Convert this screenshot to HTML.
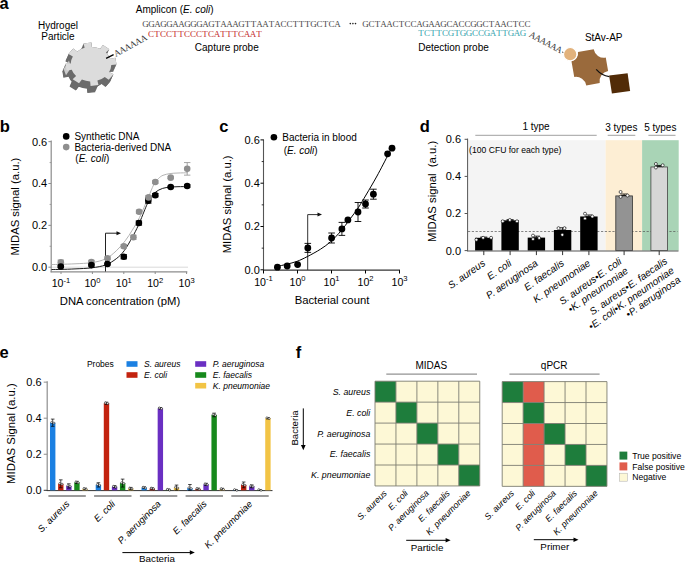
<!DOCTYPE html>
<html><head><meta charset="utf-8"><style>
html,body{margin:0;padding:0;background:#fff;overflow:hidden;}
svg{display:block;}
</style></head><body>
<svg width="685" height="562" viewBox="0 0 685 562" font-family="Liberation Sans">
<rect width="685" height="562" fill="#fff"/>
<text x="-0.60" y="9.10" font-family="Liberation Sans" font-size="16.5" text-anchor="start" font-weight="bold" font-style="normal" fill="#000">a</text>
<text x="58.00" y="28.50" font-family="Liberation Sans" font-size="10" text-anchor="middle" font-weight="normal" font-style="normal" fill="#000">Hydrogel</text>
<text x="58.00" y="39.80" font-family="Liberation Sans" font-size="10" text-anchor="middle" font-weight="normal" font-style="normal" fill="#000">Particle</text>
<text x="135.80" y="12.80" font-family="Liberation Sans" font-size="10" text-anchor="start" font-weight="normal" font-style="normal" fill="#000">Amplicon (<tspan font-style="italic">E. coli</tspan>)</text>
<path d="M-6.39,-19.27 L-7.46,-24.39 L0.45,-25.50 L0.83,-20.28 A20.3,20.3 0 0 1 9.11,-18.14 L9.11,-18.14 L11.97,-22.52 L18.34,-17.71 L14.93,-13.75 A20.3,20.3 0 0 1 19.27,-6.39 L19.27,-6.39 L24.39,-7.46 L25.50,0.45 L20.28,0.83 A20.3,20.3 0 0 1 18.14,9.11 L18.14,9.11 L22.52,11.97 L17.71,18.34 L13.75,14.93 A20.3,20.3 0 0 1 6.39,19.27 L6.39,19.27 L7.46,24.39 L-0.45,25.50 L-0.83,20.28 A20.3,20.3 0 0 1 -9.11,18.14 L-9.11,18.14 L-11.97,22.52 L-18.34,17.71 L-14.93,13.75 A20.3,20.3 0 0 1 -19.27,6.39 L-19.27,6.39 L-24.39,7.46 L-25.50,-0.45 L-20.28,-0.83 A20.3,20.3 0 0 1 -18.14,-9.11 L-18.14,-9.11 L-22.52,-11.97 L-17.71,-18.34 L-13.75,-14.93 A20.3,20.3 0 0 1 -6.39,-19.27 Z" fill="#6b6b6b" transform="translate(91.00,64.20) scale(1,0.85)"/>
<path d="M-6.39,-19.27 L-7.46,-24.39 L0.45,-25.50 L0.83,-20.28 A20.3,20.3 0 0 1 9.11,-18.14 L9.11,-18.14 L11.97,-22.52 L18.34,-17.71 L14.93,-13.75 A20.3,20.3 0 0 1 19.27,-6.39 L19.27,-6.39 L24.39,-7.46 L25.50,0.45 L20.28,0.83 A20.3,20.3 0 0 1 18.14,9.11 L18.14,9.11 L22.52,11.97 L17.71,18.34 L13.75,14.93 A20.3,20.3 0 0 1 6.39,19.27 L6.39,19.27 L7.46,24.39 L-0.45,25.50 L-0.83,20.28 A20.3,20.3 0 0 1 -9.11,18.14 L-9.11,18.14 L-11.97,22.52 L-18.34,17.71 L-14.93,13.75 A20.3,20.3 0 0 1 -19.27,6.39 L-19.27,6.39 L-24.39,7.46 L-25.50,-0.45 L-20.28,-0.83 A20.3,20.3 0 0 1 -18.14,-9.11 L-18.14,-9.11 L-22.52,-11.97 L-17.71,-18.34 L-13.75,-14.93 A20.3,20.3 0 0 1 -6.39,-19.27 Z" fill="#6b6b6b" transform="translate(90.73,64.80) scale(1,0.85)"/>
<path d="M-6.39,-19.27 L-7.46,-24.39 L0.45,-25.50 L0.83,-20.28 A20.3,20.3 0 0 1 9.11,-18.14 L9.11,-18.14 L11.97,-22.52 L18.34,-17.71 L14.93,-13.75 A20.3,20.3 0 0 1 19.27,-6.39 L19.27,-6.39 L24.39,-7.46 L25.50,0.45 L20.28,0.83 A20.3,20.3 0 0 1 18.14,9.11 L18.14,9.11 L22.52,11.97 L17.71,18.34 L13.75,14.93 A20.3,20.3 0 0 1 6.39,19.27 L6.39,19.27 L7.46,24.39 L-0.45,25.50 L-0.83,20.28 A20.3,20.3 0 0 1 -9.11,18.14 L-9.11,18.14 L-11.97,22.52 L-18.34,17.71 L-14.93,13.75 A20.3,20.3 0 0 1 -19.27,6.39 L-19.27,6.39 L-24.39,7.46 L-25.50,-0.45 L-20.28,-0.83 A20.3,20.3 0 0 1 -18.14,-9.11 L-18.14,-9.11 L-22.52,-11.97 L-17.71,-18.34 L-13.75,-14.93 A20.3,20.3 0 0 1 -6.39,-19.27 Z" fill="#6b6b6b" transform="translate(90.47,65.40) scale(1,0.85)"/>
<path d="M-6.39,-19.27 L-7.46,-24.39 L0.45,-25.50 L0.83,-20.28 A20.3,20.3 0 0 1 9.11,-18.14 L9.11,-18.14 L11.97,-22.52 L18.34,-17.71 L14.93,-13.75 A20.3,20.3 0 0 1 19.27,-6.39 L19.27,-6.39 L24.39,-7.46 L25.50,0.45 L20.28,0.83 A20.3,20.3 0 0 1 18.14,9.11 L18.14,9.11 L22.52,11.97 L17.71,18.34 L13.75,14.93 A20.3,20.3 0 0 1 6.39,19.27 L6.39,19.27 L7.46,24.39 L-0.45,25.50 L-0.83,20.28 A20.3,20.3 0 0 1 -9.11,18.14 L-9.11,18.14 L-11.97,22.52 L-18.34,17.71 L-14.93,13.75 A20.3,20.3 0 0 1 -19.27,6.39 L-19.27,6.39 L-24.39,7.46 L-25.50,-0.45 L-20.28,-0.83 A20.3,20.3 0 0 1 -18.14,-9.11 L-18.14,-9.11 L-22.52,-11.97 L-17.71,-18.34 L-13.75,-14.93 A20.3,20.3 0 0 1 -6.39,-19.27 Z" fill="#6b6b6b" transform="translate(90.20,66.00) scale(1,0.85)"/>
<path d="M-6.39,-19.27 L-7.46,-24.39 L0.45,-25.50 L0.83,-20.28 A20.3,20.3 0 0 1 9.11,-18.14 L9.11,-18.14 L11.97,-22.52 L18.34,-17.71 L14.93,-13.75 A20.3,20.3 0 0 1 19.27,-6.39 L19.27,-6.39 L24.39,-7.46 L25.50,0.45 L20.28,0.83 A20.3,20.3 0 0 1 18.14,9.11 L18.14,9.11 L22.52,11.97 L17.71,18.34 L13.75,14.93 A20.3,20.3 0 0 1 6.39,19.27 L6.39,19.27 L7.46,24.39 L-0.45,25.50 L-0.83,20.28 A20.3,20.3 0 0 1 -9.11,18.14 L-9.11,18.14 L-11.97,22.52 L-18.34,17.71 L-14.93,13.75 A20.3,20.3 0 0 1 -19.27,6.39 L-19.27,6.39 L-24.39,7.46 L-25.50,-0.45 L-20.28,-0.83 A20.3,20.3 0 0 1 -18.14,-9.11 L-18.14,-9.11 L-22.52,-11.97 L-17.71,-18.34 L-13.75,-14.93 A20.3,20.3 0 0 1 -6.39,-19.27 Z" fill="#6b6b6b" transform="translate(89.93,66.60) scale(1,0.85)"/>
<path d="M-6.39,-19.27 L-7.46,-24.39 L0.45,-25.50 L0.83,-20.28 A20.3,20.3 0 0 1 9.11,-18.14 L9.11,-18.14 L11.97,-22.52 L18.34,-17.71 L14.93,-13.75 A20.3,20.3 0 0 1 19.27,-6.39 L19.27,-6.39 L24.39,-7.46 L25.50,0.45 L20.28,0.83 A20.3,20.3 0 0 1 18.14,9.11 L18.14,9.11 L22.52,11.97 L17.71,18.34 L13.75,14.93 A20.3,20.3 0 0 1 6.39,19.27 L6.39,19.27 L7.46,24.39 L-0.45,25.50 L-0.83,20.28 A20.3,20.3 0 0 1 -9.11,18.14 L-9.11,18.14 L-11.97,22.52 L-18.34,17.71 L-14.93,13.75 A20.3,20.3 0 0 1 -19.27,6.39 L-19.27,6.39 L-24.39,7.46 L-25.50,-0.45 L-20.28,-0.83 A20.3,20.3 0 0 1 -18.14,-9.11 L-18.14,-9.11 L-22.52,-11.97 L-17.71,-18.34 L-13.75,-14.93 A20.3,20.3 0 0 1 -6.39,-19.27 Z" fill="#6b6b6b" transform="translate(89.67,67.20) scale(1,0.85)"/>
<path d="M-6.39,-19.27 L-7.46,-24.39 L0.45,-25.50 L0.83,-20.28 A20.3,20.3 0 0 1 9.11,-18.14 L9.11,-18.14 L11.97,-22.52 L18.34,-17.71 L14.93,-13.75 A20.3,20.3 0 0 1 19.27,-6.39 L19.27,-6.39 L24.39,-7.46 L25.50,0.45 L20.28,0.83 A20.3,20.3 0 0 1 18.14,9.11 L18.14,9.11 L22.52,11.97 L17.71,18.34 L13.75,14.93 A20.3,20.3 0 0 1 6.39,19.27 L6.39,19.27 L7.46,24.39 L-0.45,25.50 L-0.83,20.28 A20.3,20.3 0 0 1 -9.11,18.14 L-9.11,18.14 L-11.97,22.52 L-18.34,17.71 L-14.93,13.75 A20.3,20.3 0 0 1 -19.27,6.39 L-19.27,6.39 L-24.39,7.46 L-25.50,-0.45 L-20.28,-0.83 A20.3,20.3 0 0 1 -18.14,-9.11 L-18.14,-9.11 L-22.52,-11.97 L-17.71,-18.34 L-13.75,-14.93 A20.3,20.3 0 0 1 -6.39,-19.27 Z" fill="#6b6b6b" transform="translate(89.40,67.80) scale(1,0.85)"/>
<path d="M-6.39,-19.27 L-7.46,-24.39 L0.45,-25.50 L0.83,-20.28 A20.3,20.3 0 0 1 9.11,-18.14 L9.11,-18.14 L11.97,-22.52 L18.34,-17.71 L14.93,-13.75 A20.3,20.3 0 0 1 19.27,-6.39 L19.27,-6.39 L24.39,-7.46 L25.50,0.45 L20.28,0.83 A20.3,20.3 0 0 1 18.14,9.11 L18.14,9.11 L22.52,11.97 L17.71,18.34 L13.75,14.93 A20.3,20.3 0 0 1 6.39,19.27 L6.39,19.27 L7.46,24.39 L-0.45,25.50 L-0.83,20.28 A20.3,20.3 0 0 1 -9.11,18.14 L-9.11,18.14 L-11.97,22.52 L-18.34,17.71 L-14.93,13.75 A20.3,20.3 0 0 1 -19.27,6.39 L-19.27,6.39 L-24.39,7.46 L-25.50,-0.45 L-20.28,-0.83 A20.3,20.3 0 0 1 -18.14,-9.11 L-18.14,-9.11 L-22.52,-11.97 L-17.71,-18.34 L-13.75,-14.93 A20.3,20.3 0 0 1 -6.39,-19.27 Z" fill="#6b6b6b" transform="translate(89.13,68.40) scale(1,0.85)"/>
<path d="M-6.39,-19.27 L-7.46,-24.39 L0.45,-25.50 L0.83,-20.28 A20.3,20.3 0 0 1 9.11,-18.14 L9.11,-18.14 L11.97,-22.52 L18.34,-17.71 L14.93,-13.75 A20.3,20.3 0 0 1 19.27,-6.39 L19.27,-6.39 L24.39,-7.46 L25.50,0.45 L20.28,0.83 A20.3,20.3 0 0 1 18.14,9.11 L18.14,9.11 L22.52,11.97 L17.71,18.34 L13.75,14.93 A20.3,20.3 0 0 1 6.39,19.27 L6.39,19.27 L7.46,24.39 L-0.45,25.50 L-0.83,20.28 A20.3,20.3 0 0 1 -9.11,18.14 L-9.11,18.14 L-11.97,22.52 L-18.34,17.71 L-14.93,13.75 A20.3,20.3 0 0 1 -19.27,6.39 L-19.27,6.39 L-24.39,7.46 L-25.50,-0.45 L-20.28,-0.83 A20.3,20.3 0 0 1 -18.14,-9.11 L-18.14,-9.11 L-22.52,-11.97 L-17.71,-18.34 L-13.75,-14.93 A20.3,20.3 0 0 1 -6.39,-19.27 Z" fill="#6b6b6b" transform="translate(88.87,69.00) scale(1,0.85)"/>
<path d="M-6.39,-19.27 L-7.46,-24.39 L0.45,-25.50 L0.83,-20.28 A20.3,20.3 0 0 1 9.11,-18.14 L9.11,-18.14 L11.97,-22.52 L18.34,-17.71 L14.93,-13.75 A20.3,20.3 0 0 1 19.27,-6.39 L19.27,-6.39 L24.39,-7.46 L25.50,0.45 L20.28,0.83 A20.3,20.3 0 0 1 18.14,9.11 L18.14,9.11 L22.52,11.97 L17.71,18.34 L13.75,14.93 A20.3,20.3 0 0 1 6.39,19.27 L6.39,19.27 L7.46,24.39 L-0.45,25.50 L-0.83,20.28 A20.3,20.3 0 0 1 -9.11,18.14 L-9.11,18.14 L-11.97,22.52 L-18.34,17.71 L-14.93,13.75 A20.3,20.3 0 0 1 -19.27,6.39 L-19.27,6.39 L-24.39,7.46 L-25.50,-0.45 L-20.28,-0.83 A20.3,20.3 0 0 1 -18.14,-9.11 L-18.14,-9.11 L-22.52,-11.97 L-17.71,-18.34 L-13.75,-14.93 A20.3,20.3 0 0 1 -6.39,-19.27 Z" fill="#6b6b6b" transform="translate(88.60,69.60) scale(1,0.85)"/>
<path d="M-6.39,-19.27 L-7.46,-24.39 L0.45,-25.50 L0.83,-20.28 A20.3,20.3 0 0 1 9.11,-18.14 L9.11,-18.14 L11.97,-22.52 L18.34,-17.71 L14.93,-13.75 A20.3,20.3 0 0 1 19.27,-6.39 L19.27,-6.39 L24.39,-7.46 L25.50,0.45 L20.28,0.83 A20.3,20.3 0 0 1 18.14,9.11 L18.14,9.11 L22.52,11.97 L17.71,18.34 L13.75,14.93 A20.3,20.3 0 0 1 6.39,19.27 L6.39,19.27 L7.46,24.39 L-0.45,25.50 L-0.83,20.28 A20.3,20.3 0 0 1 -9.11,18.14 L-9.11,18.14 L-11.97,22.52 L-18.34,17.71 L-14.93,13.75 A20.3,20.3 0 0 1 -19.27,6.39 L-19.27,6.39 L-24.39,7.46 L-25.50,-0.45 L-20.28,-0.83 A20.3,20.3 0 0 1 -18.14,-9.11 L-18.14,-9.11 L-22.52,-11.97 L-17.71,-18.34 L-13.75,-14.93 A20.3,20.3 0 0 1 -6.39,-19.27 Z" fill="#6b6b6b" transform="translate(88.33,70.20) scale(1,0.85)"/>
<path d="M-6.39,-19.27 L-7.46,-24.39 L0.45,-25.50 L0.83,-20.28 A20.3,20.3 0 0 1 9.11,-18.14 L9.11,-18.14 L11.97,-22.52 L18.34,-17.71 L14.93,-13.75 A20.3,20.3 0 0 1 19.27,-6.39 L19.27,-6.39 L24.39,-7.46 L25.50,0.45 L20.28,0.83 A20.3,20.3 0 0 1 18.14,9.11 L18.14,9.11 L22.52,11.97 L17.71,18.34 L13.75,14.93 A20.3,20.3 0 0 1 6.39,19.27 L6.39,19.27 L7.46,24.39 L-0.45,25.50 L-0.83,20.28 A20.3,20.3 0 0 1 -9.11,18.14 L-9.11,18.14 L-11.97,22.52 L-18.34,17.71 L-14.93,13.75 A20.3,20.3 0 0 1 -19.27,6.39 L-19.27,6.39 L-24.39,7.46 L-25.50,-0.45 L-20.28,-0.83 A20.3,20.3 0 0 1 -18.14,-9.11 L-18.14,-9.11 L-22.52,-11.97 L-17.71,-18.34 L-13.75,-14.93 A20.3,20.3 0 0 1 -6.39,-19.27 Z" fill="#6b6b6b" transform="translate(88.07,70.80) scale(1,0.85)"/>
<path d="M-6.39,-19.27 L-7.46,-24.39 L0.45,-25.50 L0.83,-20.28 A20.3,20.3 0 0 1 9.11,-18.14 L9.11,-18.14 L11.97,-22.52 L18.34,-17.71 L14.93,-13.75 A20.3,20.3 0 0 1 19.27,-6.39 L19.27,-6.39 L24.39,-7.46 L25.50,0.45 L20.28,0.83 A20.3,20.3 0 0 1 18.14,9.11 L18.14,9.11 L22.52,11.97 L17.71,18.34 L13.75,14.93 A20.3,20.3 0 0 1 6.39,19.27 L6.39,19.27 L7.46,24.39 L-0.45,25.50 L-0.83,20.28 A20.3,20.3 0 0 1 -9.11,18.14 L-9.11,18.14 L-11.97,22.52 L-18.34,17.71 L-14.93,13.75 A20.3,20.3 0 0 1 -19.27,6.39 L-19.27,6.39 L-24.39,7.46 L-25.50,-0.45 L-20.28,-0.83 A20.3,20.3 0 0 1 -18.14,-9.11 L-18.14,-9.11 L-22.52,-11.97 L-17.71,-18.34 L-13.75,-14.93 A20.3,20.3 0 0 1 -6.39,-19.27 Z" fill="#6b6b6b" transform="translate(87.80,71.40) scale(1,0.85)"/>
<path d="M69,60.5 L71.2,67.5 L66,75.2 L63.6,69 Z" fill="#cbcbcb"/>
<path d="M-6.39,-19.27 L-7.46,-24.39 L0.45,-25.50 L0.83,-20.28 A20.3,20.3 0 0 1 9.11,-18.14 L9.11,-18.14 L11.97,-22.52 L18.34,-17.71 L14.93,-13.75 A20.3,20.3 0 0 1 19.27,-6.39 L19.27,-6.39 L24.39,-7.46 L25.50,0.45 L20.28,0.83 A20.3,20.3 0 0 1 18.14,9.11 L18.14,9.11 L22.52,11.97 L17.71,18.34 L13.75,14.93 A20.3,20.3 0 0 1 6.39,19.27 L6.39,19.27 L7.46,24.39 L-0.45,25.50 L-0.83,20.28 A20.3,20.3 0 0 1 -9.11,18.14 L-9.11,18.14 L-11.97,22.52 L-18.34,17.71 L-14.93,13.75 A20.3,20.3 0 0 1 -19.27,6.39 L-19.27,6.39 L-24.39,7.46 L-25.50,-0.45 L-20.28,-0.83 A20.3,20.3 0 0 1 -18.14,-9.11 L-18.14,-9.11 L-22.52,-11.97 L-17.71,-18.34 L-13.75,-14.93 A20.3,20.3 0 0 1 -6.39,-19.27 Z" fill="#dcdcdc" transform="translate(91,64.2) scale(1,0.85)"/>
<line x1="106.10" y1="58.40" x2="113.60" y2="54.60" stroke="#000" stroke-width="1.3"/>
<text transform="translate(116.00,56.80) rotate(-28.5)" x="3.00 9.00 15.00 21.00 27.00 33.00" y="0" font-family="Liberation Serif" font-size="9.0" text-anchor="middle" fill="#333">AAAAAA</text>
<text x="145.60 151.60 157.60 163.60 169.60 175.60 181.60 187.60 193.60 199.60 205.60 211.60 217.60 223.60 229.60 235.60 241.60 247.60 253.60 259.60 265.60 271.60 277.60 283.60 289.60 295.60 301.60 307.60 313.60 319.60 325.60 331.60 337.60" y="26.50" font-family="Liberation Serif" font-size="9.0" text-anchor="middle" fill="#474747">GGAGGAAGGGAGTAAAGTTAATACCTTTGCTCA</text>
<circle cx="350.30" cy="23.60" r="0.80" fill="#222"/>
<circle cx="352.90" cy="23.60" r="0.80" fill="#222"/>
<circle cx="355.50" cy="23.60" r="0.80" fill="#222"/>
<text x="365.40 371.40 377.40 383.40 389.40 395.40 401.40 407.40 413.40 419.40 425.40 431.40 437.40 443.40 449.40 455.40 461.40 467.40 473.40 479.40 485.40 491.40 497.40 503.40 509.40 515.40 521.40 527.40" y="26.50" font-family="Liberation Serif" font-size="9.0" text-anchor="middle" fill="#474747">GCTAACTCCAGAAGCACCGGCTAACTCC</text>
<text x="150.90 156.90 162.90 168.90 174.90 180.90 186.90 192.90 198.90 204.90 210.90 216.90 222.90 228.90 234.90 240.90 246.90 252.90 258.90" y="36.70" font-family="Liberation Serif" font-size="9.0" text-anchor="middle" fill="#c42a2a">CTCCTTCCCTCATTTCAAT</text>
<text x="421.00 427.00 433.00 439.00 445.00 451.00 457.00 463.00 469.00 475.00 481.00 487.00 493.00 499.00 505.00 511.00 517.00 523.00" y="35.70" font-family="Liberation Serif" font-size="9.0" text-anchor="middle" fill="#34a4ae">TCTTCGTGGCCGATTGAG</text>
<text x="194.80" y="51.00" font-family="Liberation Sans" font-size="10" text-anchor="start" font-weight="normal" font-style="normal" fill="#000">Capture probe</text>
<text x="418.20" y="51.20" font-family="Liberation Sans" font-size="10" text-anchor="start" font-weight="normal" font-style="normal" fill="#000">Detection probe</text>
<text transform="translate(528.60,36.40) rotate(28.5)" x="3.00 9.00 15.00 21.00 27.00 33.00" y="0" font-family="Liberation Serif" font-size="9.0" text-anchor="middle" fill="#333">AAAAAA</text>
<line x1="562.30" y1="52.10" x2="564.50" y2="53.00" stroke="#000" stroke-width="1"/>
<text x="584.90" y="40.60" font-family="Liberation Sans" font-size="10" text-anchor="start" font-weight="normal" font-style="normal" fill="#000">StAv-AP</text>
<path d="M577.95,51.96 L593.71,49.18 A10.4,10.4 0 0 0 605.76,57.62 L608.12,71.01 A10.4,10.4 0 0 0 599.68,83.06 L586.29,85.42 A10.4,10.4 0 0 0 574.24,76.98 L571.46,61.23 A8.0,8.0 0 0 0 577.95,51.96 Z" fill="#9a6a3c"/>
<circle cx="570.20" cy="54.20" r="6.70" fill="#e2b27c" stroke="#fff" stroke-width="1.2"/>
<path d="M609.1,75.5 L627.6,73.2 L630.1,91.0 L611.9,93.6 Z" fill="#512b07"/>
<path d="M596.2,69.4 Q601.5,75.4 609.3,76.6" fill="none" stroke="#111" stroke-width="1.2"/>
<text x="-0.30" y="132.30" font-family="Liberation Sans" font-size="16.5" text-anchor="start" font-weight="bold" font-style="normal" fill="#000">b</text>
<line x1="51.20" y1="267.20" x2="188.00" y2="267.20" stroke="#d0d0d0" stroke-width="0.8"/>
<line x1="51.20" y1="140.60" x2="51.20" y2="272.20" stroke="#8c8c8c" stroke-width="1.2"/>
<line x1="50.60" y1="271.80" x2="187.30" y2="271.80" stroke="#8c8c8c" stroke-width="1.2"/>
<line x1="48.40" y1="267.20" x2="51.20" y2="267.20" stroke="#8c8c8c" stroke-width="1"/>
<text x="47.20" y="271.10" font-family="Liberation Sans" font-size="11" text-anchor="end" font-weight="normal" font-style="normal" fill="#000">0.0</text>
<line x1="48.40" y1="225.35" x2="51.20" y2="225.35" stroke="#8c8c8c" stroke-width="1"/>
<text x="47.20" y="229.25" font-family="Liberation Sans" font-size="11" text-anchor="end" font-weight="normal" font-style="normal" fill="#000">0.2</text>
<line x1="48.40" y1="183.50" x2="51.20" y2="183.50" stroke="#8c8c8c" stroke-width="1"/>
<text x="47.20" y="187.40" font-family="Liberation Sans" font-size="11" text-anchor="end" font-weight="normal" font-style="normal" fill="#000">0.4</text>
<line x1="48.40" y1="141.65" x2="51.20" y2="141.65" stroke="#8c8c8c" stroke-width="1"/>
<text x="47.20" y="145.55" font-family="Liberation Sans" font-size="11" text-anchor="end" font-weight="normal" font-style="normal" fill="#000">0.6</text>
<line x1="49.60" y1="246.27" x2="51.20" y2="246.27" stroke="#8c8c8c" stroke-width="0.8"/>
<line x1="49.60" y1="204.42" x2="51.20" y2="204.42" stroke="#8c8c8c" stroke-width="0.8"/>
<line x1="49.60" y1="162.57" x2="51.20" y2="162.57" stroke="#8c8c8c" stroke-width="0.8"/>
<line x1="61.00" y1="271.80" x2="61.00" y2="274.00" stroke="#8c8c8c" stroke-width="1"/>
<text x="61.00" y="286.80" font-family="Liberation Sans" font-size="10.6" text-anchor="middle" fill="#000">10<tspan font-size="7.6" dy="-4.2">-1</tspan></text>
<line x1="92.40" y1="271.80" x2="92.40" y2="274.00" stroke="#8c8c8c" stroke-width="1"/>
<text x="92.40" y="286.80" font-family="Liberation Sans" font-size="10.6" text-anchor="middle" fill="#000">10<tspan font-size="7.6" dy="-4.2">0</tspan></text>
<line x1="123.80" y1="271.80" x2="123.80" y2="274.00" stroke="#8c8c8c" stroke-width="1"/>
<text x="123.80" y="286.80" font-family="Liberation Sans" font-size="10.6" text-anchor="middle" fill="#000">10<tspan font-size="7.6" dy="-4.2">1</tspan></text>
<line x1="155.20" y1="271.80" x2="155.20" y2="274.00" stroke="#8c8c8c" stroke-width="1"/>
<text x="155.20" y="286.80" font-family="Liberation Sans" font-size="10.6" text-anchor="middle" fill="#000">10<tspan font-size="7.6" dy="-4.2">2</tspan></text>
<line x1="186.60" y1="271.80" x2="186.60" y2="274.00" stroke="#8c8c8c" stroke-width="1"/>
<text x="186.60" y="286.80" font-family="Liberation Sans" font-size="10.6" text-anchor="middle" fill="#000">10<tspan font-size="7.6" dy="-4.2">3</tspan></text>
<text x="120.00" y="305.20" font-family="Liberation Sans" font-size="11.3" text-anchor="middle" font-weight="normal" font-style="normal" fill="#000">DNA concentration (pM)</text>
<text x="0.00" y="0.00" font-family="Liberation Sans" font-size="11.3" text-anchor="middle" font-weight="normal" font-style="normal" fill="#000" transform="translate(19.00,206.60) rotate(-90)">MIDAS signal (a.u.)</text>
<circle cx="66.20" cy="136.40" r="3.30" fill="#000"/>
<text x="74.40" y="139.90" font-family="Liberation Sans" font-size="10" text-anchor="start" font-weight="normal" font-style="normal" fill="#000">Synthetic DNA</text>
<circle cx="66.20" cy="147.10" r="3.30" fill="#8e8e8e"/>
<text x="74.40" y="150.70" font-family="Liberation Sans" font-size="10" text-anchor="start" font-weight="normal" font-style="normal" fill="#000">Bacteria-derived DNA</text>
<text x="75.30" y="161.80" font-family="Liberation Sans" font-size="10" text-anchor="start" font-weight="normal" font-style="normal" fill="#000">(<tspan font-style="italic">E. coli</tspan>)</text>
<path d="M51.50,264.60 C53.08,264.55 57.08,264.43 61.00,264.30 C64.92,264.17 69.83,264.08 75.00,263.80 C80.17,263.52 86.88,263.43 92.00,262.60 C97.12,261.77 101.65,260.77 105.70,258.80 C109.75,256.83 113.05,253.80 116.30,250.80 C119.55,247.80 122.53,244.25 125.20,240.80 C127.87,237.35 129.93,233.95 132.30,230.10 C134.67,226.25 136.73,223.15 139.40,217.70 C142.07,212.25 145.92,202.88 148.30,197.40 C150.68,191.92 152.00,187.95 153.70,184.80 C155.40,181.65 156.95,180.08 158.50,178.50 C160.05,176.92 161.08,176.12 163.00,175.30 C164.92,174.48 167.50,173.98 170.00,173.60 C172.50,173.22 175.08,173.13 178.00,173.00 C180.92,172.87 185.92,172.83 187.50,172.80 " fill="none" stroke="#b4b4b4" stroke-width="1"/>
<path d="M51.50,269.50 C53.08,269.48 57.08,269.50 61.00,269.40 C64.92,269.30 69.83,269.17 75.00,268.90 C80.17,268.63 86.88,268.47 92.00,267.80 C97.12,267.13 101.65,266.42 105.70,264.90 C109.75,263.38 113.20,261.08 116.30,258.70 C119.40,256.32 121.63,254.18 124.30,250.60 C126.97,247.02 129.92,241.50 132.30,237.20 C134.68,232.90 136.22,230.10 138.60,224.80 C140.98,219.50 144.63,209.82 146.60,205.40 C148.57,200.98 148.93,200.50 150.40,198.30 C151.87,196.10 153.37,193.85 155.40,192.20 C157.43,190.55 160.22,189.23 162.60,188.40 C164.98,187.57 167.13,187.48 169.70,187.20 C172.27,186.92 175.03,186.80 178.00,186.70 C180.97,186.60 185.92,186.62 187.50,186.60 " fill="none" stroke="#1a1a1a" stroke-width="1"/>
<path d="M105.50,271.50 L105.50,233.20 L117.50,233.20" fill="none" stroke="#222" stroke-width="1"/>
<path d="M121.00,233.20 L116.50,231.17 L116.50,235.22 Z" fill="#111"/>
<line x1="60.80" y1="260.09" x2="60.80" y2="264.27" stroke="#9a9a9a" stroke-width="0.9"/>
<line x1="57.60" y1="260.09" x2="64.00" y2="260.09" stroke="#9a9a9a" stroke-width="0.9"/>
<line x1="57.60" y1="264.27" x2="64.00" y2="264.27" stroke="#9a9a9a" stroke-width="0.9"/>
<line x1="91.40" y1="260.29" x2="91.40" y2="263.64" stroke="#9a9a9a" stroke-width="0.9"/>
<line x1="88.20" y1="260.29" x2="94.60" y2="260.29" stroke="#9a9a9a" stroke-width="0.9"/>
<line x1="88.20" y1="263.64" x2="94.60" y2="263.64" stroke="#9a9a9a" stroke-width="0.9"/>
<line x1="107.50" y1="256.95" x2="107.50" y2="259.46" stroke="#9a9a9a" stroke-width="0.9"/>
<line x1="104.30" y1="256.95" x2="110.70" y2="256.95" stroke="#9a9a9a" stroke-width="0.9"/>
<line x1="104.30" y1="259.46" x2="110.70" y2="259.46" stroke="#9a9a9a" stroke-width="0.9"/>
<line x1="123.80" y1="244.60" x2="123.80" y2="247.95" stroke="#9a9a9a" stroke-width="0.9"/>
<line x1="120.60" y1="244.60" x2="127.00" y2="244.60" stroke="#9a9a9a" stroke-width="0.9"/>
<line x1="120.60" y1="247.95" x2="127.00" y2="247.95" stroke="#9a9a9a" stroke-width="0.9"/>
<line x1="133.40" y1="235.18" x2="133.40" y2="239.37" stroke="#9a9a9a" stroke-width="0.9"/>
<line x1="130.20" y1="235.18" x2="136.60" y2="235.18" stroke="#9a9a9a" stroke-width="0.9"/>
<line x1="130.20" y1="239.37" x2="136.60" y2="239.37" stroke="#9a9a9a" stroke-width="0.9"/>
<line x1="139.10" y1="210.07" x2="139.10" y2="213.42" stroke="#9a9a9a" stroke-width="0.9"/>
<line x1="135.90" y1="210.07" x2="142.30" y2="210.07" stroke="#9a9a9a" stroke-width="0.9"/>
<line x1="135.90" y1="213.42" x2="142.30" y2="213.42" stroke="#9a9a9a" stroke-width="0.9"/>
<line x1="148.60" y1="195.43" x2="148.60" y2="199.61" stroke="#9a9a9a" stroke-width="0.9"/>
<line x1="145.40" y1="195.43" x2="151.80" y2="195.43" stroke="#9a9a9a" stroke-width="0.9"/>
<line x1="145.40" y1="199.61" x2="151.80" y2="199.61" stroke="#9a9a9a" stroke-width="0.9"/>
<line x1="155.30" y1="180.78" x2="155.30" y2="183.29" stroke="#9a9a9a" stroke-width="0.9"/>
<line x1="152.10" y1="180.78" x2="158.50" y2="180.78" stroke="#9a9a9a" stroke-width="0.9"/>
<line x1="152.10" y1="183.29" x2="158.50" y2="183.29" stroke="#9a9a9a" stroke-width="0.9"/>
<line x1="170.70" y1="176.80" x2="170.70" y2="178.48" stroke="#9a9a9a" stroke-width="0.9"/>
<line x1="167.50" y1="176.80" x2="173.90" y2="176.80" stroke="#9a9a9a" stroke-width="0.9"/>
<line x1="167.50" y1="178.48" x2="173.90" y2="178.48" stroke="#9a9a9a" stroke-width="0.9"/>
<line x1="187.20" y1="162.57" x2="187.20" y2="175.13" stroke="#9a9a9a" stroke-width="0.9"/>
<line x1="184.00" y1="162.57" x2="190.40" y2="162.57" stroke="#9a9a9a" stroke-width="0.9"/>
<line x1="184.00" y1="175.13" x2="190.40" y2="175.13" stroke="#9a9a9a" stroke-width="0.9"/>
<circle cx="60.80" cy="262.18" r="3.30" fill="#8e8e8e"/>
<circle cx="91.40" cy="261.97" r="3.30" fill="#8e8e8e"/>
<circle cx="107.50" cy="258.20" r="3.30" fill="#8e8e8e"/>
<circle cx="123.80" cy="246.27" r="3.30" fill="#8e8e8e"/>
<circle cx="133.40" cy="237.28" r="3.30" fill="#8e8e8e"/>
<circle cx="139.10" cy="211.75" r="3.30" fill="#8e8e8e"/>
<circle cx="148.60" cy="197.52" r="3.30" fill="#8e8e8e"/>
<circle cx="155.30" cy="182.04" r="3.30" fill="#8e8e8e"/>
<circle cx="170.70" cy="177.64" r="3.30" fill="#8e8e8e"/>
<circle cx="187.20" cy="168.85" r="3.30" fill="#8e8e8e"/>
<line x1="60.80" y1="265.74" x2="60.80" y2="267.41" stroke="#000" stroke-width="0.9"/>
<line x1="57.60" y1="265.74" x2="64.00" y2="265.74" stroke="#000" stroke-width="0.9"/>
<line x1="57.60" y1="267.41" x2="64.00" y2="267.41" stroke="#000" stroke-width="0.9"/>
<line x1="91.40" y1="264.27" x2="91.40" y2="265.94" stroke="#000" stroke-width="0.9"/>
<line x1="88.20" y1="264.27" x2="94.60" y2="264.27" stroke="#000" stroke-width="0.9"/>
<line x1="88.20" y1="265.94" x2="94.60" y2="265.94" stroke="#000" stroke-width="0.9"/>
<line x1="107.50" y1="263.22" x2="107.50" y2="264.90" stroke="#000" stroke-width="0.9"/>
<line x1="104.30" y1="263.22" x2="110.70" y2="263.22" stroke="#000" stroke-width="0.9"/>
<line x1="104.30" y1="264.90" x2="110.70" y2="264.90" stroke="#000" stroke-width="0.9"/>
<line x1="123.80" y1="254.64" x2="123.80" y2="258.83" stroke="#000" stroke-width="0.9"/>
<line x1="120.60" y1="254.64" x2="127.00" y2="254.64" stroke="#000" stroke-width="0.9"/>
<line x1="120.60" y1="258.83" x2="127.00" y2="258.83" stroke="#000" stroke-width="0.9"/>
<line x1="138.90" y1="220.96" x2="138.90" y2="225.14" stroke="#000" stroke-width="0.9"/>
<line x1="135.70" y1="220.96" x2="142.10" y2="220.96" stroke="#000" stroke-width="0.9"/>
<line x1="135.70" y1="225.14" x2="142.10" y2="225.14" stroke="#000" stroke-width="0.9"/>
<line x1="148.30" y1="198.15" x2="148.30" y2="203.17" stroke="#000" stroke-width="0.9"/>
<line x1="145.10" y1="198.15" x2="151.50" y2="198.15" stroke="#000" stroke-width="0.9"/>
<line x1="145.10" y1="203.17" x2="151.50" y2="203.17" stroke="#000" stroke-width="0.9"/>
<line x1="155.30" y1="193.54" x2="155.30" y2="196.89" stroke="#000" stroke-width="0.9"/>
<line x1="152.10" y1="193.54" x2="158.50" y2="193.54" stroke="#000" stroke-width="0.9"/>
<line x1="152.10" y1="196.89" x2="158.50" y2="196.89" stroke="#000" stroke-width="0.9"/>
<line x1="170.70" y1="186.22" x2="170.70" y2="187.89" stroke="#000" stroke-width="0.9"/>
<line x1="167.50" y1="186.22" x2="173.90" y2="186.22" stroke="#000" stroke-width="0.9"/>
<line x1="167.50" y1="187.89" x2="173.90" y2="187.89" stroke="#000" stroke-width="0.9"/>
<line x1="187.20" y1="184.76" x2="187.20" y2="187.27" stroke="#000" stroke-width="0.9"/>
<line x1="184.00" y1="184.76" x2="190.40" y2="184.76" stroke="#000" stroke-width="0.9"/>
<line x1="184.00" y1="187.27" x2="190.40" y2="187.27" stroke="#000" stroke-width="0.9"/>
<circle cx="60.80" cy="266.57" r="3.30" fill="#000"/>
<circle cx="91.40" cy="265.11" r="3.30" fill="#000"/>
<circle cx="107.50" cy="264.06" r="3.30" fill="#000"/>
<circle cx="123.80" cy="256.74" r="3.30" fill="#000"/>
<circle cx="138.90" cy="223.05" r="3.30" fill="#000"/>
<circle cx="148.30" cy="200.66" r="3.30" fill="#000"/>
<circle cx="155.30" cy="195.22" r="3.30" fill="#000"/>
<circle cx="170.70" cy="187.06" r="3.30" fill="#000"/>
<circle cx="187.20" cy="186.01" r="3.30" fill="#000"/>
<circle cx="148.60" cy="197.52" r="3.30" fill="#8e8e8e"/>
<text x="219.30" y="132.30" font-family="Liberation Sans" font-size="16.5" text-anchor="start" font-weight="bold" font-style="normal" fill="#000">c</text>
<line x1="263.50" y1="139.40" x2="263.50" y2="270.50" stroke="#555" stroke-width="1.1"/>
<line x1="263.00" y1="270.20" x2="400.00" y2="270.20" stroke="#333" stroke-width="1.2"/>
<line x1="260.50" y1="269.80" x2="263.50" y2="269.80" stroke="#000" stroke-width="1"/>
<text x="259.80" y="273.70" font-family="Liberation Sans" font-size="11" text-anchor="end" font-weight="normal" font-style="normal" fill="#000">0.0</text>
<line x1="260.50" y1="226.50" x2="263.50" y2="226.50" stroke="#000" stroke-width="1"/>
<text x="259.80" y="230.40" font-family="Liberation Sans" font-size="11" text-anchor="end" font-weight="normal" font-style="normal" fill="#000">0.2</text>
<line x1="260.50" y1="183.20" x2="263.50" y2="183.20" stroke="#000" stroke-width="1"/>
<text x="259.80" y="187.10" font-family="Liberation Sans" font-size="11" text-anchor="end" font-weight="normal" font-style="normal" fill="#000">0.4</text>
<line x1="260.50" y1="139.90" x2="263.50" y2="139.90" stroke="#000" stroke-width="1"/>
<text x="259.80" y="143.80" font-family="Liberation Sans" font-size="11" text-anchor="end" font-weight="normal" font-style="normal" fill="#000">0.6</text>
<line x1="261.70" y1="248.15" x2="263.50" y2="248.15" stroke="#000" stroke-width="0.8"/>
<line x1="261.70" y1="204.85" x2="263.50" y2="204.85" stroke="#000" stroke-width="0.8"/>
<line x1="261.70" y1="161.55" x2="263.50" y2="161.55" stroke="#000" stroke-width="0.8"/>
<line x1="263.50" y1="270.20" x2="263.50" y2="273.50" stroke="#000" stroke-width="1"/>
<text x="263.50" y="285.60" font-family="Liberation Sans" font-size="10.6" text-anchor="middle" fill="#000">10<tspan font-size="7.6" dy="-4.2">-1</tspan></text>
<line x1="297.50" y1="270.20" x2="297.50" y2="273.50" stroke="#000" stroke-width="1"/>
<text x="297.50" y="285.60" font-family="Liberation Sans" font-size="10.6" text-anchor="middle" fill="#000">10<tspan font-size="7.6" dy="-4.2">0</tspan></text>
<line x1="331.50" y1="270.20" x2="331.50" y2="273.50" stroke="#000" stroke-width="1"/>
<text x="331.50" y="285.60" font-family="Liberation Sans" font-size="10.6" text-anchor="middle" fill="#000">10<tspan font-size="7.6" dy="-4.2">1</tspan></text>
<line x1="365.50" y1="270.20" x2="365.50" y2="273.50" stroke="#000" stroke-width="1"/>
<text x="365.50" y="285.60" font-family="Liberation Sans" font-size="10.6" text-anchor="middle" fill="#000">10<tspan font-size="7.6" dy="-4.2">2</tspan></text>
<line x1="399.50" y1="270.20" x2="399.50" y2="273.50" stroke="#000" stroke-width="1"/>
<text x="399.50" y="285.60" font-family="Liberation Sans" font-size="10.6" text-anchor="middle" fill="#000">10<tspan font-size="7.6" dy="-4.2">3</tspan></text>
<text x="332.00" y="304.30" font-family="Liberation Sans" font-size="11.3" text-anchor="middle" font-weight="normal" font-style="normal" fill="#000">Bacterial count</text>
<text x="0.00" y="0.00" font-family="Liberation Sans" font-size="11.3" text-anchor="middle" font-weight="normal" font-style="normal" fill="#000" transform="translate(231.10,204.40) rotate(-90)">MIDAS signal (a.u.)</text>
<circle cx="273.90" cy="137.20" r="3.30" fill="#000"/>
<text x="282.30" y="140.70" font-family="Liberation Sans" font-size="10" text-anchor="start" font-weight="normal" font-style="normal" fill="#000">Bacteria in blood</text>
<text x="283.70" y="153.90" font-family="Liberation Sans" font-size="10" text-anchor="start" font-weight="normal" font-style="normal" fill="#000">(<tspan font-style="italic">E. coli</tspan>)</text>
<path d="M307.70,270.00 L307.70,214.60 L318.50,214.60" fill="none" stroke="#333" stroke-width="1"/>
<path d="M322.00,214.60 L317.50,212.57 L317.50,216.62 Z" fill="#111"/>
<path d="M277.40,266.40 C278.98,266.03 283.62,265.05 286.90,264.20 C290.18,263.35 293.70,262.57 297.10,261.30 C300.50,260.03 303.40,258.62 307.30,256.60 C311.20,254.58 316.60,251.70 320.50,249.20 C324.40,246.70 327.30,244.63 330.70,241.60 C334.10,238.57 337.73,234.68 340.90,231.00 C344.07,227.32 346.78,223.42 349.70,219.50 C352.62,215.58 355.68,211.58 358.40,207.50 C361.12,203.42 362.90,200.25 366.00,195.00 C369.10,189.75 373.28,182.75 377.00,176.00 C380.72,169.25 386.42,158.08 388.30,154.50 " fill="none" stroke="#000" stroke-width="1"/>
<circle cx="277.40" cy="267.20" r="3.40" fill="#000"/>
<circle cx="287.20" cy="266.00" r="3.40" fill="#000"/>
<circle cx="297.60" cy="264.60" r="3.40" fill="#000"/>
<line x1="307.80" y1="243.40" x2="307.80" y2="252.40" stroke="#000" stroke-width="0.9"/>
<line x1="304.50" y1="243.40" x2="311.10" y2="243.40" stroke="#000" stroke-width="0.9"/>
<line x1="304.50" y1="252.40" x2="311.10" y2="252.40" stroke="#000" stroke-width="0.9"/>
<circle cx="307.80" cy="247.90" r="3.40" fill="#000"/>
<line x1="331.60" y1="233.00" x2="331.60" y2="243.00" stroke="#000" stroke-width="0.9"/>
<line x1="328.30" y1="233.00" x2="334.90" y2="233.00" stroke="#000" stroke-width="0.9"/>
<line x1="328.30" y1="243.00" x2="334.90" y2="243.00" stroke="#000" stroke-width="0.9"/>
<circle cx="331.60" cy="238.00" r="3.40" fill="#000"/>
<line x1="341.90" y1="222.40" x2="341.90" y2="235.40" stroke="#000" stroke-width="0.9"/>
<line x1="338.60" y1="222.40" x2="345.20" y2="222.40" stroke="#000" stroke-width="0.9"/>
<line x1="338.60" y1="235.40" x2="345.20" y2="235.40" stroke="#000" stroke-width="0.9"/>
<circle cx="341.90" cy="228.90" r="3.40" fill="#000"/>
<circle cx="347.90" cy="219.90" r="3.40" fill="#000"/>
<line x1="358.00" y1="202.50" x2="358.00" y2="221.50" stroke="#000" stroke-width="0.9"/>
<line x1="354.70" y1="202.50" x2="361.30" y2="202.50" stroke="#000" stroke-width="0.9"/>
<line x1="354.70" y1="221.50" x2="361.30" y2="221.50" stroke="#000" stroke-width="0.9"/>
<circle cx="358.00" cy="212.00" r="3.40" fill="#000"/>
<line x1="365.50" y1="200.00" x2="365.50" y2="208.00" stroke="#000" stroke-width="0.9"/>
<line x1="362.20" y1="200.00" x2="368.80" y2="200.00" stroke="#000" stroke-width="0.9"/>
<line x1="362.20" y1="208.00" x2="368.80" y2="208.00" stroke="#000" stroke-width="0.9"/>
<circle cx="365.50" cy="204.00" r="3.40" fill="#000"/>
<line x1="373.40" y1="189.20" x2="373.40" y2="199.20" stroke="#000" stroke-width="0.9"/>
<line x1="370.10" y1="189.20" x2="376.70" y2="189.20" stroke="#000" stroke-width="0.9"/>
<line x1="370.10" y1="199.20" x2="376.70" y2="199.20" stroke="#000" stroke-width="0.9"/>
<circle cx="373.40" cy="194.20" r="3.40" fill="#000"/>
<circle cx="387.60" cy="153.80" r="3.40" fill="#000"/>
<circle cx="392.00" cy="148.20" r="3.40" fill="#000"/>
<text x="419.80" y="132.30" font-family="Liberation Sans" font-size="16.5" text-anchor="start" font-weight="bold" font-style="normal" fill="#000">d</text>
<rect x="468.00" y="140.20" width="137.60" height="110.40" fill="#f4f4f4"/>
<rect x="605.60" y="140.20" width="36.50" height="110.40" fill="#fdeed4"/>
<rect x="642.10" y="140.20" width="36.60" height="110.40" fill="#a9d4b6"/>
<line x1="475.30" y1="135.30" x2="596.70" y2="135.30" stroke="#a0a0a0" stroke-width="1"/>
<line x1="607.70" y1="135.30" x2="635.30" y2="135.30" stroke="#a0a0a0" stroke-width="1"/>
<line x1="648.40" y1="135.30" x2="675.50" y2="135.30" stroke="#a0a0a0" stroke-width="1"/>
<text x="536.00" y="130.30" font-family="Liberation Sans" font-size="10" text-anchor="middle" font-weight="normal" font-style="normal" fill="#000">1 type</text>
<text x="621.30" y="130.50" font-family="Liberation Sans" font-size="10" text-anchor="middle" font-weight="normal" font-style="normal" fill="#000">3 types</text>
<text x="660.30" y="130.50" font-family="Liberation Sans" font-size="10" text-anchor="middle" font-weight="normal" font-style="normal" fill="#000">5 types</text>
<text x="469.10" y="152.80" font-family="Liberation Sans" font-size="8.6" text-anchor="start" font-weight="normal" font-style="normal" fill="#000">(100 CFU for each type)</text>
<line x1="468.00" y1="231.50" x2="677.50" y2="231.50" stroke="#555" stroke-width="0.7" stroke-dasharray="2.2,1.6"/>
<rect x="475.10" y="237.80" width="17.40" height="12.80" fill="#000"/>
<rect x="501.40" y="220.36" width="17.40" height="30.24" fill="#000"/>
<rect x="527.70" y="237.61" width="17.40" height="12.99" fill="#000"/>
<rect x="553.90" y="230.01" width="17.40" height="20.59" fill="#000"/>
<rect x="580.20" y="216.47" width="17.40" height="34.13" fill="#000"/>
<rect x="615.80" y="195.91" width="16.60" height="54.69" fill="#939393" stroke="#333" stroke-width="0.8"/>
<rect x="650.90" y="166.97" width="16.60" height="83.63" fill="#d6d6d6" stroke="#444" stroke-width="0.8"/>
<line x1="483.80" y1="237.06" x2="483.80" y2="237.80" stroke="#000" stroke-width="0.8"/>
<line x1="480.30" y1="237.06" x2="487.30" y2="237.06" stroke="#000" stroke-width="0.8"/>
<line x1="480.30" y1="237.80" x2="487.30" y2="237.80" stroke="#000" stroke-width="0.8"/>
<circle cx="476.40" cy="239.66" r="1.50" fill="#fff" stroke="#000" stroke-width="0.6"/>
<circle cx="483.10" cy="237.80" r="1.50" fill="#fff" stroke="#000" stroke-width="0.6"/>
<circle cx="491.10" cy="237.80" r="1.50" fill="#fff" stroke="#000" stroke-width="0.6"/>
<line x1="510.10" y1="219.62" x2="510.10" y2="220.36" stroke="#000" stroke-width="0.8"/>
<line x1="506.60" y1="219.62" x2="513.60" y2="219.62" stroke="#000" stroke-width="0.8"/>
<line x1="506.60" y1="220.36" x2="513.60" y2="220.36" stroke="#000" stroke-width="0.8"/>
<circle cx="502.70" cy="221.29" r="1.50" fill="#fff" stroke="#000" stroke-width="0.6"/>
<circle cx="509.80" cy="219.99" r="1.50" fill="#fff" stroke="#000" stroke-width="0.6"/>
<circle cx="517.00" cy="221.29" r="1.50" fill="#fff" stroke="#000" stroke-width="0.6"/>
<line x1="536.40" y1="236.13" x2="536.40" y2="237.61" stroke="#000" stroke-width="0.8"/>
<line x1="532.90" y1="236.13" x2="539.90" y2="236.13" stroke="#000" stroke-width="0.8"/>
<line x1="532.90" y1="237.61" x2="539.90" y2="237.61" stroke="#000" stroke-width="0.8"/>
<circle cx="533.00" cy="235.57" r="1.50" fill="#fff" stroke="#000" stroke-width="0.6"/>
<circle cx="533.00" cy="239.10" r="1.50" fill="#fff" stroke="#000" stroke-width="0.6"/>
<circle cx="539.20" cy="237.99" r="1.50" fill="#fff" stroke="#000" stroke-width="0.6"/>
<line x1="562.60" y1="227.78" x2="562.60" y2="230.01" stroke="#000" stroke-width="0.8"/>
<line x1="559.10" y1="227.78" x2="566.10" y2="227.78" stroke="#000" stroke-width="0.8"/>
<line x1="559.10" y1="230.01" x2="566.10" y2="230.01" stroke="#000" stroke-width="0.8"/>
<circle cx="558.50" cy="228.15" r="1.50" fill="#fff" stroke="#000" stroke-width="0.6"/>
<circle cx="564.50" cy="228.15" r="1.50" fill="#fff" stroke="#000" stroke-width="0.6"/>
<circle cx="562.30" cy="234.83" r="1.50" fill="#fff" stroke="#000" stroke-width="0.6"/>
<line x1="588.90" y1="214.98" x2="588.90" y2="216.47" stroke="#000" stroke-width="0.8"/>
<line x1="585.40" y1="214.98" x2="592.40" y2="214.98" stroke="#000" stroke-width="0.8"/>
<line x1="585.40" y1="216.47" x2="592.40" y2="216.47" stroke="#000" stroke-width="0.8"/>
<circle cx="585.00" cy="213.69" r="1.50" fill="#fff" stroke="#000" stroke-width="0.6"/>
<circle cx="585.00" cy="218.51" r="1.50" fill="#fff" stroke="#000" stroke-width="0.6"/>
<circle cx="592.30" cy="216.47" r="1.50" fill="#fff" stroke="#000" stroke-width="0.6"/>
<line x1="624.10" y1="194.02" x2="624.10" y2="195.51" stroke="#000" stroke-width="0.8"/>
<line x1="620.60" y1="194.02" x2="627.60" y2="194.02" stroke="#000" stroke-width="0.8"/>
<line x1="620.60" y1="195.51" x2="627.60" y2="195.51" stroke="#000" stroke-width="0.8"/>
<circle cx="620.60" cy="191.98" r="1.50" fill="#fff" stroke="#000" stroke-width="0.6"/>
<circle cx="620.60" cy="196.81" r="1.50" fill="#fff" stroke="#000" stroke-width="0.6"/>
<circle cx="627.50" cy="195.51" r="1.50" fill="#fff" stroke="#000" stroke-width="0.6"/>
<line x1="659.20" y1="165.46" x2="659.20" y2="166.57" stroke="#000" stroke-width="0.8"/>
<line x1="655.70" y1="165.46" x2="662.70" y2="165.46" stroke="#000" stroke-width="0.8"/>
<line x1="655.70" y1="166.57" x2="662.70" y2="166.57" stroke="#000" stroke-width="0.8"/>
<circle cx="655.90" cy="163.97" r="1.50" fill="#fff" stroke="#000" stroke-width="0.6"/>
<circle cx="655.90" cy="167.50" r="1.50" fill="#fff" stroke="#000" stroke-width="0.6"/>
<circle cx="662.70" cy="165.27" r="1.50" fill="#fff" stroke="#000" stroke-width="0.6"/>
<line x1="467.60" y1="138.60" x2="467.60" y2="251.10" stroke="#555" stroke-width="1"/>
<line x1="467.10" y1="251.00" x2="678.50" y2="251.00" stroke="#555" stroke-width="1"/>
<line x1="464.60" y1="250.60" x2="467.60" y2="250.60" stroke="#555" stroke-width="1"/>
<text x="461.00" y="254.50" font-family="Liberation Sans" font-size="11" text-anchor="end" font-weight="normal" font-style="normal" fill="#000">0.0</text>
<line x1="464.60" y1="213.50" x2="467.60" y2="213.50" stroke="#555" stroke-width="1"/>
<text x="461.00" y="217.40" font-family="Liberation Sans" font-size="11" text-anchor="end" font-weight="normal" font-style="normal" fill="#000">0.2</text>
<line x1="464.60" y1="176.40" x2="467.60" y2="176.40" stroke="#555" stroke-width="1"/>
<text x="461.00" y="180.30" font-family="Liberation Sans" font-size="11" text-anchor="end" font-weight="normal" font-style="normal" fill="#000">0.4</text>
<line x1="464.60" y1="139.30" x2="467.60" y2="139.30" stroke="#555" stroke-width="1"/>
<text x="461.00" y="143.20" font-family="Liberation Sans" font-size="11" text-anchor="end" font-weight="normal" font-style="normal" fill="#000">0.6</text>
<line x1="483.80" y1="251.00" x2="483.80" y2="255.10" stroke="#333" stroke-width="1"/>
<line x1="510.10" y1="251.00" x2="510.10" y2="255.10" stroke="#333" stroke-width="1"/>
<line x1="536.40" y1="251.00" x2="536.40" y2="255.10" stroke="#333" stroke-width="1"/>
<line x1="562.60" y1="251.00" x2="562.60" y2="255.10" stroke="#333" stroke-width="1"/>
<line x1="588.90" y1="251.00" x2="588.90" y2="255.10" stroke="#333" stroke-width="1"/>
<line x1="624.10" y1="251.00" x2="624.10" y2="255.10" stroke="#333" stroke-width="1"/>
<line x1="659.20" y1="251.00" x2="659.20" y2="255.10" stroke="#333" stroke-width="1"/>
<text x="0.00" y="0.00" font-family="Liberation Sans" font-size="11.3" text-anchor="middle" font-weight="normal" font-style="normal" fill="#000" transform="translate(435.70,191.40) rotate(-90)" xml:space="preserve" style="white-space:pre">MIDAS signal  (a.u.)</text>
<text x="0.00" y="0.00" font-family="Liberation Sans" font-size="10" text-anchor="end" font-weight="normal" font-style="italic" fill="#000" transform="translate(486.00,264.70) rotate(-35)">S. aureus</text>
<text x="0.00" y="0.00" font-family="Liberation Sans" font-size="10" text-anchor="end" font-weight="normal" font-style="italic" fill="#000" transform="translate(512.30,264.70) rotate(-35)">E. coli</text>
<text x="0.00" y="0.00" font-family="Liberation Sans" font-size="10" text-anchor="end" font-weight="normal" font-style="italic" fill="#000" transform="translate(538.60,264.70) rotate(-35)">P. aeruginosa</text>
<text x="0.00" y="0.00" font-family="Liberation Sans" font-size="10" text-anchor="end" font-weight="normal" font-style="italic" fill="#000" transform="translate(564.80,264.70) rotate(-35)">E. faecalis</text>
<text x="0.00" y="0.00" font-family="Liberation Sans" font-size="10" text-anchor="end" font-weight="normal" font-style="italic" fill="#000" transform="translate(591.10,264.70) rotate(-35)">K. pneumoniae</text>
<text x="0.00" y="0.00" font-family="Liberation Sans" font-size="10" text-anchor="end" font-weight="normal" font-style="italic" fill="#000" transform="translate(622.40,263.00) rotate(-35)">S. aureus•E. coli</text>
<text x="0.00" y="0.00" font-family="Liberation Sans" font-size="10" text-anchor="end" font-weight="normal" font-style="italic" fill="#000" transform="translate(628.90,272.40) rotate(-35)">•K. pneumoniae</text>
<text x="0.00" y="0.00" font-family="Liberation Sans" font-size="10" text-anchor="end" font-weight="normal" font-style="italic" fill="#000" transform="translate(668.20,262.60) rotate(-35)">S. aureus•E. faecalis</text>
<text x="0.00" y="0.00" font-family="Liberation Sans" font-size="10" text-anchor="end" font-weight="normal" font-style="italic" fill="#000" transform="translate(674.70,272.00) rotate(-35)">•E. coli•K. pneumoniae</text>
<text x="0.00" y="0.00" font-family="Liberation Sans" font-size="10" text-anchor="end" font-weight="normal" font-style="italic" fill="#000" transform="translate(681.20,281.40) rotate(-35)">•P. aeruginosa</text>
<text x="-0.50" y="358.30" font-family="Liberation Sans" font-size="16.5" text-anchor="start" font-weight="bold" font-style="normal" fill="#000">e</text>
<line x1="47.20" y1="381.30" x2="47.20" y2="490.80" stroke="#8e8e8e" stroke-width="1.2"/>
<line x1="46.70" y1="490.60" x2="272.50" y2="490.60" stroke="#333" stroke-width="1"/>
<line x1="43.70" y1="490.30" x2="47.20" y2="490.30" stroke="#333" stroke-width="1"/>
<text x="41.60" y="494.30" font-family="Liberation Sans" font-size="11" text-anchor="end" font-weight="normal" font-style="normal" fill="#000">0.0</text>
<line x1="43.70" y1="454.25" x2="47.20" y2="454.25" stroke="#8e8e8e" stroke-width="1"/>
<text x="41.60" y="458.25" font-family="Liberation Sans" font-size="11" text-anchor="end" font-weight="normal" font-style="normal" fill="#000">0.2</text>
<line x1="43.70" y1="418.20" x2="47.20" y2="418.20" stroke="#8e8e8e" stroke-width="1"/>
<text x="41.60" y="422.20" font-family="Liberation Sans" font-size="11" text-anchor="end" font-weight="normal" font-style="normal" fill="#000">0.4</text>
<line x1="43.70" y1="382.15" x2="47.20" y2="382.15" stroke="#8e8e8e" stroke-width="1"/>
<text x="41.60" y="386.15" font-family="Liberation Sans" font-size="11" text-anchor="end" font-weight="normal" font-style="normal" fill="#000">0.6</text>
<text x="0.00" y="0.00" font-family="Liberation Sans" font-size="11.4" text-anchor="middle" font-weight="normal" font-style="normal" fill="#000" transform="translate(14.90,433.60) rotate(-90)">MIDAS Signal (a.u.)</text>
<text x="86.90" y="367.40" font-family="Liberation Sans" font-size="8.5" text-anchor="start" font-weight="normal" font-style="normal" fill="#000">Probes</text>
<rect x="126.50" y="361.20" width="11.00" height="5.60" fill="#1b80e2"/>
<text x="144.00" y="366.80" font-family="Liberation Sans" font-size="8.5" text-anchor="start" font-weight="normal" font-style="italic" fill="#000">S. aureus</text>
<rect x="126.50" y="372.20" width="11.00" height="5.60" fill="#c3230f"/>
<text x="144.00" y="377.80" font-family="Liberation Sans" font-size="8.5" text-anchor="start" font-weight="normal" font-style="italic" fill="#000">E. coli</text>
<rect x="195.20" y="361.20" width="11.00" height="5.60" fill="#6a2fc2"/>
<text x="212.80" y="366.80" font-family="Liberation Sans" font-size="8.5" text-anchor="start" font-weight="normal" font-style="italic" fill="#000">P. aeruginosa</text>
<rect x="195.20" y="372.20" width="11.00" height="5.60" fill="#17891c"/>
<text x="212.80" y="377.80" font-family="Liberation Sans" font-size="8.5" text-anchor="start" font-weight="normal" font-style="italic" fill="#000">E. faecalis</text>
<rect x="195.20" y="382.90" width="11.00" height="5.60" fill="#f2c445"/>
<text x="212.80" y="388.50" font-family="Liberation Sans" font-size="8.5" text-anchor="start" font-weight="normal" font-style="italic" fill="#000">K. pneumoniae</text>
<rect x="50.00" y="422.71" width="5.40" height="67.59" fill="#1b80e2"/>
<rect x="58.08" y="483.81" width="5.40" height="6.49" fill="#c3230f"/>
<rect x="66.16" y="485.97" width="5.40" height="4.33" fill="#6a2fc2"/>
<rect x="74.24" y="482.37" width="5.40" height="7.93" fill="#17891c"/>
<rect x="82.32" y="488.86" width="5.40" height="1.44" fill="#f2c445"/>
<line x1="52.70" y1="419.10" x2="52.70" y2="426.31" stroke="#000" stroke-width="0.7"/>
<line x1="50.90" y1="419.10" x2="54.50" y2="419.10" stroke="#000" stroke-width="0.7"/>
<line x1="50.90" y1="426.31" x2="54.50" y2="426.31" stroke="#000" stroke-width="0.7"/>
<circle cx="51.70" cy="422.35" r="1.00" fill="#fff" stroke="#000" stroke-width="0.5"/>
<circle cx="53.90" cy="423.07" r="1.00" fill="#fff" stroke="#000" stroke-width="0.5"/>
<line x1="60.78" y1="479.85" x2="60.78" y2="487.78" stroke="#000" stroke-width="0.7"/>
<line x1="58.98" y1="479.85" x2="62.58" y2="479.85" stroke="#000" stroke-width="0.7"/>
<line x1="58.98" y1="487.78" x2="62.58" y2="487.78" stroke="#000" stroke-width="0.7"/>
<circle cx="59.78" cy="483.45" r="1.00" fill="#fff" stroke="#000" stroke-width="0.5"/>
<circle cx="61.98" cy="484.17" r="1.00" fill="#fff" stroke="#000" stroke-width="0.5"/>
<line x1="68.86" y1="483.81" x2="68.86" y2="488.14" stroke="#000" stroke-width="0.7"/>
<line x1="67.06" y1="483.81" x2="70.66" y2="483.81" stroke="#000" stroke-width="0.7"/>
<line x1="67.06" y1="488.14" x2="70.66" y2="488.14" stroke="#000" stroke-width="0.7"/>
<circle cx="67.86" cy="485.61" r="1.00" fill="#fff" stroke="#000" stroke-width="0.5"/>
<circle cx="70.06" cy="486.33" r="1.00" fill="#fff" stroke="#000" stroke-width="0.5"/>
<line x1="76.94" y1="481.29" x2="76.94" y2="483.45" stroke="#000" stroke-width="0.7"/>
<line x1="75.14" y1="481.29" x2="78.74" y2="481.29" stroke="#000" stroke-width="0.7"/>
<line x1="75.14" y1="483.45" x2="78.74" y2="483.45" stroke="#000" stroke-width="0.7"/>
<circle cx="75.94" cy="482.01" r="1.00" fill="#fff" stroke="#000" stroke-width="0.5"/>
<circle cx="78.14" cy="482.73" r="1.00" fill="#fff" stroke="#000" stroke-width="0.5"/>
<line x1="85.02" y1="488.14" x2="85.02" y2="489.58" stroke="#000" stroke-width="0.7"/>
<line x1="83.22" y1="488.14" x2="86.82" y2="488.14" stroke="#000" stroke-width="0.7"/>
<line x1="83.22" y1="489.58" x2="86.82" y2="489.58" stroke="#000" stroke-width="0.7"/>
<circle cx="84.02" cy="488.50" r="1.00" fill="#fff" stroke="#000" stroke-width="0.5"/>
<circle cx="86.22" cy="489.22" r="1.00" fill="#fff" stroke="#000" stroke-width="0.5"/>
<line x1="48.40" y1="496.00" x2="85.80" y2="496.00" stroke="#9a9a9a" stroke-width="2"/>
<rect x="95.70" y="484.89" width="5.40" height="5.41" fill="#1b80e2"/>
<rect x="103.78" y="403.24" width="5.40" height="87.06" fill="#c3230f"/>
<rect x="111.86" y="486.69" width="5.40" height="3.61" fill="#6a2fc2"/>
<rect x="119.94" y="483.09" width="5.40" height="7.21" fill="#17891c"/>
<rect x="128.02" y="488.50" width="5.40" height="1.80" fill="#f2c445"/>
<line x1="98.40" y1="482.73" x2="98.40" y2="487.06" stroke="#000" stroke-width="0.7"/>
<line x1="96.60" y1="482.73" x2="100.20" y2="482.73" stroke="#000" stroke-width="0.7"/>
<line x1="96.60" y1="487.06" x2="100.20" y2="487.06" stroke="#000" stroke-width="0.7"/>
<circle cx="97.40" cy="484.53" r="1.00" fill="#fff" stroke="#000" stroke-width="0.5"/>
<circle cx="99.60" cy="485.25" r="1.00" fill="#fff" stroke="#000" stroke-width="0.5"/>
<line x1="106.48" y1="402.16" x2="106.48" y2="404.32" stroke="#000" stroke-width="0.7"/>
<line x1="104.68" y1="402.16" x2="108.28" y2="402.16" stroke="#000" stroke-width="0.7"/>
<line x1="104.68" y1="404.32" x2="108.28" y2="404.32" stroke="#000" stroke-width="0.7"/>
<circle cx="105.48" cy="402.88" r="1.00" fill="#fff" stroke="#000" stroke-width="0.5"/>
<circle cx="107.68" cy="403.60" r="1.00" fill="#fff" stroke="#000" stroke-width="0.5"/>
<line x1="114.56" y1="485.61" x2="114.56" y2="487.78" stroke="#000" stroke-width="0.7"/>
<line x1="112.76" y1="485.61" x2="116.36" y2="485.61" stroke="#000" stroke-width="0.7"/>
<line x1="112.76" y1="487.78" x2="116.36" y2="487.78" stroke="#000" stroke-width="0.7"/>
<circle cx="113.56" cy="486.33" r="1.00" fill="#fff" stroke="#000" stroke-width="0.5"/>
<circle cx="115.76" cy="487.06" r="1.00" fill="#fff" stroke="#000" stroke-width="0.5"/>
<line x1="122.64" y1="479.12" x2="122.64" y2="487.06" stroke="#000" stroke-width="0.7"/>
<line x1="120.84" y1="479.12" x2="124.44" y2="479.12" stroke="#000" stroke-width="0.7"/>
<line x1="120.84" y1="487.06" x2="124.44" y2="487.06" stroke="#000" stroke-width="0.7"/>
<circle cx="121.64" cy="482.73" r="1.00" fill="#fff" stroke="#000" stroke-width="0.5"/>
<circle cx="123.84" cy="483.45" r="1.00" fill="#fff" stroke="#000" stroke-width="0.5"/>
<line x1="130.72" y1="487.42" x2="130.72" y2="489.58" stroke="#000" stroke-width="0.7"/>
<line x1="128.92" y1="487.42" x2="132.52" y2="487.42" stroke="#000" stroke-width="0.7"/>
<line x1="128.92" y1="489.58" x2="132.52" y2="489.58" stroke="#000" stroke-width="0.7"/>
<circle cx="129.72" cy="488.14" r="1.00" fill="#fff" stroke="#000" stroke-width="0.5"/>
<circle cx="131.92" cy="488.86" r="1.00" fill="#fff" stroke="#000" stroke-width="0.5"/>
<line x1="94.10" y1="496.00" x2="131.50" y2="496.00" stroke="#9a9a9a" stroke-width="2"/>
<rect x="141.50" y="487.60" width="5.40" height="2.70" fill="#1b80e2"/>
<rect x="149.58" y="488.50" width="5.40" height="1.80" fill="#c3230f"/>
<rect x="157.66" y="408.29" width="5.40" height="82.01" fill="#6a2fc2"/>
<rect x="165.74" y="489.76" width="5.40" height="0.54" fill="#17891c"/>
<rect x="173.82" y="487.60" width="5.40" height="2.70" fill="#f2c445"/>
<line x1="144.20" y1="486.88" x2="144.20" y2="488.32" stroke="#000" stroke-width="0.7"/>
<line x1="142.40" y1="486.88" x2="146.00" y2="486.88" stroke="#000" stroke-width="0.7"/>
<line x1="142.40" y1="488.32" x2="146.00" y2="488.32" stroke="#000" stroke-width="0.7"/>
<circle cx="143.20" cy="487.24" r="1.00" fill="#fff" stroke="#000" stroke-width="0.5"/>
<circle cx="145.40" cy="487.96" r="1.00" fill="#fff" stroke="#000" stroke-width="0.5"/>
<line x1="152.28" y1="487.78" x2="152.28" y2="489.22" stroke="#000" stroke-width="0.7"/>
<line x1="150.48" y1="487.78" x2="154.08" y2="487.78" stroke="#000" stroke-width="0.7"/>
<line x1="150.48" y1="489.22" x2="154.08" y2="489.22" stroke="#000" stroke-width="0.7"/>
<circle cx="151.28" cy="488.14" r="1.00" fill="#fff" stroke="#000" stroke-width="0.5"/>
<circle cx="153.48" cy="488.86" r="1.00" fill="#fff" stroke="#000" stroke-width="0.5"/>
<line x1="160.36" y1="407.57" x2="160.36" y2="409.01" stroke="#000" stroke-width="0.7"/>
<line x1="158.56" y1="407.57" x2="162.16" y2="407.57" stroke="#000" stroke-width="0.7"/>
<line x1="158.56" y1="409.01" x2="162.16" y2="409.01" stroke="#000" stroke-width="0.7"/>
<circle cx="159.36" cy="407.93" r="1.00" fill="#fff" stroke="#000" stroke-width="0.5"/>
<circle cx="161.56" cy="408.65" r="1.00" fill="#fff" stroke="#000" stroke-width="0.5"/>
<line x1="168.44" y1="489.04" x2="168.44" y2="490.30" stroke="#000" stroke-width="0.7"/>
<line x1="166.64" y1="489.04" x2="170.24" y2="489.04" stroke="#000" stroke-width="0.7"/>
<line x1="166.64" y1="490.30" x2="170.24" y2="490.30" stroke="#000" stroke-width="0.7"/>
<circle cx="167.44" cy="489.40" r="1.00" fill="#fff" stroke="#000" stroke-width="0.5"/>
<circle cx="169.64" cy="490.12" r="1.00" fill="#fff" stroke="#000" stroke-width="0.5"/>
<line x1="176.52" y1="485.07" x2="176.52" y2="490.12" stroke="#000" stroke-width="0.7"/>
<line x1="174.72" y1="485.07" x2="178.32" y2="485.07" stroke="#000" stroke-width="0.7"/>
<line x1="174.72" y1="490.12" x2="178.32" y2="490.12" stroke="#000" stroke-width="0.7"/>
<circle cx="175.52" cy="487.24" r="1.00" fill="#fff" stroke="#000" stroke-width="0.5"/>
<circle cx="177.72" cy="487.96" r="1.00" fill="#fff" stroke="#000" stroke-width="0.5"/>
<line x1="139.90" y1="496.00" x2="177.30" y2="496.00" stroke="#9a9a9a" stroke-width="2"/>
<rect x="187.20" y="488.14" width="5.40" height="2.16" fill="#1b80e2"/>
<rect x="195.28" y="488.86" width="5.40" height="1.44" fill="#c3230f"/>
<rect x="203.36" y="484.35" width="5.40" height="5.95" fill="#6a2fc2"/>
<rect x="211.44" y="414.96" width="5.40" height="75.34" fill="#17891c"/>
<rect x="219.52" y="489.04" width="5.40" height="1.26" fill="#f2c445"/>
<line x1="189.90" y1="484.53" x2="189.90" y2="490.30" stroke="#000" stroke-width="0.7"/>
<line x1="188.10" y1="484.53" x2="191.70" y2="484.53" stroke="#000" stroke-width="0.7"/>
<line x1="188.10" y1="490.30" x2="191.70" y2="490.30" stroke="#000" stroke-width="0.7"/>
<circle cx="188.90" cy="487.78" r="1.00" fill="#fff" stroke="#000" stroke-width="0.5"/>
<circle cx="191.10" cy="488.50" r="1.00" fill="#fff" stroke="#000" stroke-width="0.5"/>
<line x1="197.98" y1="488.14" x2="197.98" y2="489.58" stroke="#000" stroke-width="0.7"/>
<line x1="196.18" y1="488.14" x2="199.78" y2="488.14" stroke="#000" stroke-width="0.7"/>
<line x1="196.18" y1="489.58" x2="199.78" y2="489.58" stroke="#000" stroke-width="0.7"/>
<circle cx="196.98" cy="488.50" r="1.00" fill="#fff" stroke="#000" stroke-width="0.5"/>
<circle cx="199.18" cy="489.22" r="1.00" fill="#fff" stroke="#000" stroke-width="0.5"/>
<line x1="206.06" y1="483.27" x2="206.06" y2="485.43" stroke="#000" stroke-width="0.7"/>
<line x1="204.26" y1="483.27" x2="207.86" y2="483.27" stroke="#000" stroke-width="0.7"/>
<line x1="204.26" y1="485.43" x2="207.86" y2="485.43" stroke="#000" stroke-width="0.7"/>
<circle cx="205.06" cy="483.99" r="1.00" fill="#fff" stroke="#000" stroke-width="0.5"/>
<circle cx="207.26" cy="484.71" r="1.00" fill="#fff" stroke="#000" stroke-width="0.5"/>
<line x1="214.14" y1="413.15" x2="214.14" y2="416.76" stroke="#000" stroke-width="0.7"/>
<line x1="212.34" y1="413.15" x2="215.94" y2="413.15" stroke="#000" stroke-width="0.7"/>
<line x1="212.34" y1="416.76" x2="215.94" y2="416.76" stroke="#000" stroke-width="0.7"/>
<circle cx="213.14" cy="414.60" r="1.00" fill="#fff" stroke="#000" stroke-width="0.5"/>
<circle cx="215.34" cy="415.32" r="1.00" fill="#fff" stroke="#000" stroke-width="0.5"/>
<line x1="222.22" y1="488.32" x2="222.22" y2="489.76" stroke="#000" stroke-width="0.7"/>
<line x1="220.42" y1="488.32" x2="224.02" y2="488.32" stroke="#000" stroke-width="0.7"/>
<line x1="220.42" y1="489.76" x2="224.02" y2="489.76" stroke="#000" stroke-width="0.7"/>
<circle cx="221.22" cy="488.68" r="1.00" fill="#fff" stroke="#000" stroke-width="0.5"/>
<circle cx="223.42" cy="489.40" r="1.00" fill="#fff" stroke="#000" stroke-width="0.5"/>
<line x1="185.60" y1="496.00" x2="223.00" y2="496.00" stroke="#9a9a9a" stroke-width="2"/>
<rect x="232.90" y="489.94" width="5.40" height="0.36" fill="#1b80e2"/>
<rect x="240.98" y="484.89" width="5.40" height="5.41" fill="#c3230f"/>
<rect x="249.06" y="486.33" width="5.40" height="3.97" fill="#6a2fc2"/>
<rect x="257.14" y="489.94" width="5.40" height="0.36" fill="#17891c"/>
<rect x="265.22" y="418.20" width="5.40" height="72.10" fill="#f2c445"/>
<line x1="235.60" y1="489.58" x2="235.60" y2="490.30" stroke="#000" stroke-width="0.7"/>
<line x1="233.80" y1="489.58" x2="237.40" y2="489.58" stroke="#000" stroke-width="0.7"/>
<line x1="233.80" y1="490.30" x2="237.40" y2="490.30" stroke="#000" stroke-width="0.7"/>
<circle cx="234.60" cy="489.58" r="1.00" fill="#fff" stroke="#000" stroke-width="0.5"/>
<circle cx="236.80" cy="490.30" r="1.00" fill="#fff" stroke="#000" stroke-width="0.5"/>
<line x1="243.68" y1="482.01" x2="243.68" y2="487.78" stroke="#000" stroke-width="0.7"/>
<line x1="241.88" y1="482.01" x2="245.48" y2="482.01" stroke="#000" stroke-width="0.7"/>
<line x1="241.88" y1="487.78" x2="245.48" y2="487.78" stroke="#000" stroke-width="0.7"/>
<circle cx="242.68" cy="484.53" r="1.00" fill="#fff" stroke="#000" stroke-width="0.5"/>
<circle cx="244.88" cy="485.25" r="1.00" fill="#fff" stroke="#000" stroke-width="0.5"/>
<line x1="251.76" y1="484.89" x2="251.76" y2="487.78" stroke="#000" stroke-width="0.7"/>
<line x1="249.96" y1="484.89" x2="253.56" y2="484.89" stroke="#000" stroke-width="0.7"/>
<line x1="249.96" y1="487.78" x2="253.56" y2="487.78" stroke="#000" stroke-width="0.7"/>
<circle cx="250.76" cy="485.97" r="1.00" fill="#fff" stroke="#000" stroke-width="0.5"/>
<circle cx="252.96" cy="486.69" r="1.00" fill="#fff" stroke="#000" stroke-width="0.5"/>
<line x1="259.84" y1="489.58" x2="259.84" y2="490.30" stroke="#000" stroke-width="0.7"/>
<line x1="258.04" y1="489.58" x2="261.64" y2="489.58" stroke="#000" stroke-width="0.7"/>
<line x1="258.04" y1="490.30" x2="261.64" y2="490.30" stroke="#000" stroke-width="0.7"/>
<circle cx="258.84" cy="489.58" r="1.00" fill="#fff" stroke="#000" stroke-width="0.5"/>
<circle cx="261.04" cy="490.30" r="1.00" fill="#fff" stroke="#000" stroke-width="0.5"/>
<line x1="267.92" y1="417.48" x2="267.92" y2="418.92" stroke="#000" stroke-width="0.7"/>
<line x1="266.12" y1="417.48" x2="269.72" y2="417.48" stroke="#000" stroke-width="0.7"/>
<line x1="266.12" y1="418.92" x2="269.72" y2="418.92" stroke="#000" stroke-width="0.7"/>
<circle cx="266.92" cy="417.84" r="1.00" fill="#fff" stroke="#000" stroke-width="0.5"/>
<circle cx="269.12" cy="418.56" r="1.00" fill="#fff" stroke="#000" stroke-width="0.5"/>
<line x1="231.30" y1="496.00" x2="268.70" y2="496.00" stroke="#9a9a9a" stroke-width="2"/>
<text x="0.00" y="0.00" font-family="Liberation Sans" font-size="9.4" text-anchor="end" font-weight="normal" font-style="italic" fill="#000" transform="translate(70.00,504.50) rotate(-45)">S. aureus</text>
<text x="0.00" y="0.00" font-family="Liberation Sans" font-size="9.4" text-anchor="end" font-weight="normal" font-style="italic" fill="#000" transform="translate(115.70,504.50) rotate(-45)">E. coli</text>
<text x="0.00" y="0.00" font-family="Liberation Sans" font-size="9.4" text-anchor="end" font-weight="normal" font-style="italic" fill="#000" transform="translate(161.50,504.50) rotate(-45)">P. aeruginosa</text>
<text x="0.00" y="0.00" font-family="Liberation Sans" font-size="9.4" text-anchor="end" font-weight="normal" font-style="italic" fill="#000" transform="translate(207.20,504.50) rotate(-45)">E. faecalis</text>
<text x="0.00" y="0.00" font-family="Liberation Sans" font-size="9.4" text-anchor="end" font-weight="normal" font-style="italic" fill="#000" transform="translate(252.90,504.50) rotate(-45)">K. pneumoniae</text>
<line x1="122.40" y1="552.60" x2="190.50" y2="552.60" stroke="#000" stroke-width="1"/>
<path d="M194.80,552.60 L189.80,550.35 L189.80,554.85 Z" fill="#000"/>
<text x="157.00" y="561.50" font-family="Liberation Sans" font-size="9.8" text-anchor="middle" font-weight="normal" font-style="normal" fill="#000">Bacteria</text>
<text x="295.80" y="357.80" font-family="Liberation Sans" font-size="16.5" text-anchor="start" font-weight="bold" font-style="normal" fill="#000">f</text>
<rect x="375.00" y="381.20" width="20.95" height="20.95" fill="#1e7d3c"/>
<rect x="395.95" y="381.20" width="20.95" height="20.95" fill="#fdf8d6"/>
<rect x="416.90" y="381.20" width="20.95" height="20.95" fill="#fdf8d6"/>
<rect x="437.85" y="381.20" width="20.95" height="20.95" fill="#fdf8d6"/>
<rect x="458.80" y="381.20" width="20.95" height="20.95" fill="#fdf8d6"/>
<rect x="375.00" y="402.15" width="20.95" height="20.95" fill="#fdf8d6"/>
<rect x="395.95" y="402.15" width="20.95" height="20.95" fill="#1e7d3c"/>
<rect x="416.90" y="402.15" width="20.95" height="20.95" fill="#fdf8d6"/>
<rect x="437.85" y="402.15" width="20.95" height="20.95" fill="#fdf8d6"/>
<rect x="458.80" y="402.15" width="20.95" height="20.95" fill="#fdf8d6"/>
<rect x="375.00" y="423.10" width="20.95" height="20.95" fill="#fdf8d6"/>
<rect x="395.95" y="423.10" width="20.95" height="20.95" fill="#fdf8d6"/>
<rect x="416.90" y="423.10" width="20.95" height="20.95" fill="#1e7d3c"/>
<rect x="437.85" y="423.10" width="20.95" height="20.95" fill="#fdf8d6"/>
<rect x="458.80" y="423.10" width="20.95" height="20.95" fill="#fdf8d6"/>
<rect x="375.00" y="444.05" width="20.95" height="20.95" fill="#fdf8d6"/>
<rect x="395.95" y="444.05" width="20.95" height="20.95" fill="#fdf8d6"/>
<rect x="416.90" y="444.05" width="20.95" height="20.95" fill="#fdf8d6"/>
<rect x="437.85" y="444.05" width="20.95" height="20.95" fill="#1e7d3c"/>
<rect x="458.80" y="444.05" width="20.95" height="20.95" fill="#fdf8d6"/>
<rect x="375.00" y="465.00" width="20.95" height="20.95" fill="#fdf8d6"/>
<rect x="395.95" y="465.00" width="20.95" height="20.95" fill="#fdf8d6"/>
<rect x="416.90" y="465.00" width="20.95" height="20.95" fill="#fdf8d6"/>
<rect x="437.85" y="465.00" width="20.95" height="20.95" fill="#fdf8d6"/>
<rect x="458.80" y="465.00" width="20.95" height="20.95" fill="#1e7d3c"/>
<line x1="375.00" y1="381.20" x2="375.00" y2="485.95" stroke="#7d7d70" stroke-width="0.9"/>
<line x1="375.00" y1="381.20" x2="479.75" y2="381.20" stroke="#7d7d70" stroke-width="0.9"/>
<line x1="395.95" y1="381.20" x2="395.95" y2="485.95" stroke="#7d7d70" stroke-width="0.9"/>
<line x1="375.00" y1="402.15" x2="479.75" y2="402.15" stroke="#7d7d70" stroke-width="0.9"/>
<line x1="416.90" y1="381.20" x2="416.90" y2="485.95" stroke="#7d7d70" stroke-width="0.9"/>
<line x1="375.00" y1="423.10" x2="479.75" y2="423.10" stroke="#7d7d70" stroke-width="0.9"/>
<line x1="437.85" y1="381.20" x2="437.85" y2="485.95" stroke="#7d7d70" stroke-width="0.9"/>
<line x1="375.00" y1="444.05" x2="479.75" y2="444.05" stroke="#7d7d70" stroke-width="0.9"/>
<line x1="458.80" y1="381.20" x2="458.80" y2="485.95" stroke="#7d7d70" stroke-width="0.9"/>
<line x1="375.00" y1="465.00" x2="479.75" y2="465.00" stroke="#7d7d70" stroke-width="0.9"/>
<line x1="479.75" y1="381.20" x2="479.75" y2="485.95" stroke="#7d7d70" stroke-width="0.9"/>
<line x1="375.00" y1="485.95" x2="479.75" y2="485.95" stroke="#7d7d70" stroke-width="0.9"/>
<rect x="502.20" y="381.60" width="20.95" height="20.95" fill="#1e7d3c"/>
<rect x="523.15" y="381.60" width="20.95" height="20.95" fill="#e05c4c"/>
<rect x="544.10" y="381.60" width="20.95" height="20.95" fill="#fdf8d6"/>
<rect x="565.05" y="381.60" width="20.95" height="20.95" fill="#fdf8d6"/>
<rect x="586.00" y="381.60" width="20.95" height="20.95" fill="#fdf8d6"/>
<rect x="502.20" y="402.55" width="20.95" height="20.95" fill="#fdf8d6"/>
<rect x="523.15" y="402.55" width="20.95" height="20.95" fill="#1e7d3c"/>
<rect x="544.10" y="402.55" width="20.95" height="20.95" fill="#fdf8d6"/>
<rect x="565.05" y="402.55" width="20.95" height="20.95" fill="#fdf8d6"/>
<rect x="586.00" y="402.55" width="20.95" height="20.95" fill="#fdf8d6"/>
<rect x="502.20" y="423.50" width="20.95" height="20.95" fill="#fdf8d6"/>
<rect x="523.15" y="423.50" width="20.95" height="20.95" fill="#e05c4c"/>
<rect x="544.10" y="423.50" width="20.95" height="20.95" fill="#1e7d3c"/>
<rect x="565.05" y="423.50" width="20.95" height="20.95" fill="#fdf8d6"/>
<rect x="586.00" y="423.50" width="20.95" height="20.95" fill="#fdf8d6"/>
<rect x="502.20" y="444.45" width="20.95" height="20.95" fill="#fdf8d6"/>
<rect x="523.15" y="444.45" width="20.95" height="20.95" fill="#e05c4c"/>
<rect x="544.10" y="444.45" width="20.95" height="20.95" fill="#fdf8d6"/>
<rect x="565.05" y="444.45" width="20.95" height="20.95" fill="#1e7d3c"/>
<rect x="586.00" y="444.45" width="20.95" height="20.95" fill="#fdf8d6"/>
<rect x="502.20" y="465.40" width="20.95" height="20.95" fill="#fdf8d6"/>
<rect x="523.15" y="465.40" width="20.95" height="20.95" fill="#e05c4c"/>
<rect x="544.10" y="465.40" width="20.95" height="20.95" fill="#fdf8d6"/>
<rect x="565.05" y="465.40" width="20.95" height="20.95" fill="#fdf8d6"/>
<rect x="586.00" y="465.40" width="20.95" height="20.95" fill="#1e7d3c"/>
<line x1="502.20" y1="381.60" x2="502.20" y2="486.35" stroke="#7d7d70" stroke-width="0.9"/>
<line x1="502.20" y1="381.60" x2="606.95" y2="381.60" stroke="#7d7d70" stroke-width="0.9"/>
<line x1="523.15" y1="381.60" x2="523.15" y2="486.35" stroke="#7d7d70" stroke-width="0.9"/>
<line x1="502.20" y1="402.55" x2="606.95" y2="402.55" stroke="#7d7d70" stroke-width="0.9"/>
<line x1="544.10" y1="381.60" x2="544.10" y2="486.35" stroke="#7d7d70" stroke-width="0.9"/>
<line x1="502.20" y1="423.50" x2="606.95" y2="423.50" stroke="#7d7d70" stroke-width="0.9"/>
<line x1="565.05" y1="381.60" x2="565.05" y2="486.35" stroke="#7d7d70" stroke-width="0.9"/>
<line x1="502.20" y1="444.45" x2="606.95" y2="444.45" stroke="#7d7d70" stroke-width="0.9"/>
<line x1="586.00" y1="381.60" x2="586.00" y2="486.35" stroke="#7d7d70" stroke-width="0.9"/>
<line x1="502.20" y1="465.40" x2="606.95" y2="465.40" stroke="#7d7d70" stroke-width="0.9"/>
<line x1="606.95" y1="381.60" x2="606.95" y2="486.35" stroke="#7d7d70" stroke-width="0.9"/>
<line x1="502.20" y1="486.35" x2="606.95" y2="486.35" stroke="#7d7d70" stroke-width="0.9"/>
<text x="431.30" y="368.60" font-family="Liberation Sans" font-size="10" text-anchor="middle" font-weight="normal" font-style="normal" fill="#000">MIDAS</text>
<line x1="386.30" y1="374.10" x2="477.00" y2="374.10" stroke="#777" stroke-width="1"/>
<text x="554.20" y="368.50" font-family="Liberation Sans" font-size="10" text-anchor="middle" font-weight="normal" font-style="normal" fill="#000">qPCR</text>
<line x1="509.40" y1="374.10" x2="599.60" y2="374.10" stroke="#777" stroke-width="1"/>
<text x="370.30" y="394.80" font-family="Liberation Sans" font-size="8.8" text-anchor="end" font-weight="normal" font-style="italic" fill="#000">S. aureus</text>
<text x="370.30" y="415.65" font-family="Liberation Sans" font-size="8.8" text-anchor="end" font-weight="normal" font-style="italic" fill="#000">E. coli</text>
<text x="370.30" y="436.50" font-family="Liberation Sans" font-size="8.8" text-anchor="end" font-weight="normal" font-style="italic" fill="#000">P. aeruginosa</text>
<text x="370.30" y="457.35" font-family="Liberation Sans" font-size="8.8" text-anchor="end" font-weight="normal" font-style="italic" fill="#000">E. faecalis</text>
<text x="370.30" y="478.20" font-family="Liberation Sans" font-size="8.8" text-anchor="end" font-weight="normal" font-style="italic" fill="#000">K. pneumoniae</text>
<text x="0.00" y="0.00" font-family="Liberation Sans" font-size="9.6" text-anchor="middle" font-weight="normal" font-style="normal" fill="#000" transform="translate(297.90,428.00) rotate(-90)">Bacteria</text>
<line x1="303.30" y1="408.40" x2="303.30" y2="445.00" stroke="#000" stroke-width="1"/>
<path d="M303.30,450.30 L300.96,445.10 L305.64,445.10 Z" fill="#000"/>
<text x="0.00" y="0.00" font-family="Liberation Sans" font-size="8.8" text-anchor="end" font-weight="normal" font-style="italic" fill="#000" transform="translate(387.48,493.80) rotate(-45)">S. aureus</text>
<text x="0.00" y="0.00" font-family="Liberation Sans" font-size="8.8" text-anchor="end" font-weight="normal" font-style="italic" fill="#000" transform="translate(514.67,493.80) rotate(-45)">S. aureus</text>
<text x="0.00" y="0.00" font-family="Liberation Sans" font-size="8.8" text-anchor="end" font-weight="normal" font-style="italic" fill="#000" transform="translate(408.43,493.80) rotate(-45)">E. coli</text>
<text x="0.00" y="0.00" font-family="Liberation Sans" font-size="8.8" text-anchor="end" font-weight="normal" font-style="italic" fill="#000" transform="translate(535.62,493.80) rotate(-45)">E. coli</text>
<text x="0.00" y="0.00" font-family="Liberation Sans" font-size="8.8" text-anchor="end" font-weight="normal" font-style="italic" fill="#000" transform="translate(429.38,493.80) rotate(-45)">P. aeruginosa</text>
<text x="0.00" y="0.00" font-family="Liberation Sans" font-size="8.8" text-anchor="end" font-weight="normal" font-style="italic" fill="#000" transform="translate(556.58,493.80) rotate(-45)">P. aeruginosa</text>
<text x="0.00" y="0.00" font-family="Liberation Sans" font-size="8.8" text-anchor="end" font-weight="normal" font-style="italic" fill="#000" transform="translate(450.32,493.80) rotate(-45)">E. faecalis</text>
<text x="0.00" y="0.00" font-family="Liberation Sans" font-size="8.8" text-anchor="end" font-weight="normal" font-style="italic" fill="#000" transform="translate(577.52,493.80) rotate(-45)">E. faecalis</text>
<text x="0.00" y="0.00" font-family="Liberation Sans" font-size="8.8" text-anchor="end" font-weight="normal" font-style="italic" fill="#000" transform="translate(471.27,493.80) rotate(-45)">K. pneumoniae</text>
<text x="0.00" y="0.00" font-family="Liberation Sans" font-size="8.8" text-anchor="end" font-weight="normal" font-style="italic" fill="#000" transform="translate(598.48,493.80) rotate(-45)">K. pneumoniae</text>
<line x1="406.20" y1="540.30" x2="446.00" y2="540.30" stroke="#000" stroke-width="1"/>
<path d="M450.60,540.30 L445.60,538.05 L445.60,542.55 Z" fill="#000"/>
<text x="427.00" y="551.10" font-family="Liberation Sans" font-size="9.8" text-anchor="middle" font-weight="normal" font-style="normal" fill="#000">Particle</text>
<line x1="533.80" y1="539.70" x2="574.00" y2="539.70" stroke="#000" stroke-width="1"/>
<path d="M578.50,539.70 L573.50,537.45 L573.50,541.95 Z" fill="#000"/>
<text x="554.80" y="549.50" font-family="Liberation Sans" font-size="9.8" text-anchor="middle" font-weight="normal" font-style="normal" fill="#000">Primer</text>
<rect x="619.50" y="451.60" width="7.80" height="8.00" fill="#1e7d3c"/>
<text x="632.30" y="458.80" font-family="Liberation Sans" font-size="8.6" text-anchor="start" font-weight="normal" font-style="normal" fill="#000">True positive</text>
<rect x="619.50" y="462.40" width="7.80" height="8.00" fill="#e05c4c"/>
<text x="632.30" y="469.60" font-family="Liberation Sans" font-size="8.6" text-anchor="start" font-weight="normal" font-style="normal" fill="#000">False positive</text>
<rect x="619.50" y="473.20" width="7.80" height="8.00" fill="#fdf8d6" stroke="#aaa" stroke-width="0.5"/>
<text x="632.30" y="480.40" font-family="Liberation Sans" font-size="8.6" text-anchor="start" font-weight="normal" font-style="normal" fill="#000">Negative</text>
</svg>
</body></html>
